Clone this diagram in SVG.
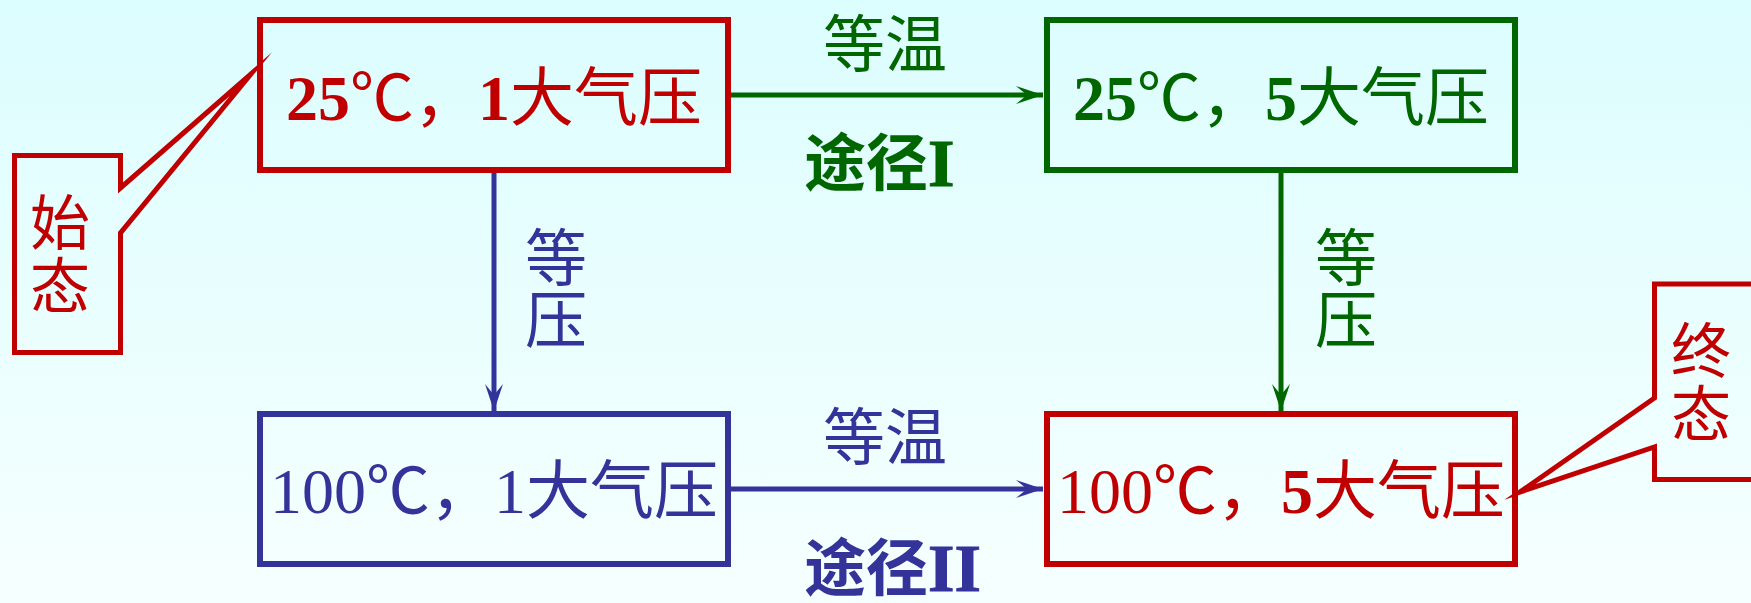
<svg xmlns="http://www.w3.org/2000/svg" width="1751" height="603" viewBox="0 0 1751 603">
  <defs>
    <linearGradient id="bg" x1="0" y1="0" x2="0" y2="1">
      <stop offset="0" stop-color="#dcfdfe"/>
      <stop offset="1" stop-color="#f6ffff"/>
    </linearGradient>
    <marker id="ahG" markerUnits="userSpaceOnUse" markerWidth="40" markerHeight="30" viewBox="-30 -15 40 30" refX="0" refY="0" orient="auto">
      <path d="M0,0 L-27,-9 L-16,0 L-27,9 Z" fill="#006600"/>
    </marker>
    <marker id="ahB" markerUnits="userSpaceOnUse" markerWidth="40" markerHeight="30" viewBox="-30 -15 40 30" refX="0" refY="0" orient="auto">
      <path d="M0,0 L-27,-9 L-16,0 L-27,9 Z" fill="#333399"/>
    </marker>
  </defs>
  <style>
    .box { fill: none; stroke-width: 6; }
    .call { fill: none; stroke: #c00000; stroke-width: 5; stroke-linejoin: miter; stroke-miterlimit: 20; }
    .red { fill: #c00000; stroke: #c00000; }
    .green { fill: #006600; stroke: #006600; }
    .blue { fill: #333399; stroke: #333399; }
    .lbl { font-family: "Liberation Serif", "Noto Sans CJK SC", serif; font-size: 64px; stroke: none; }
    .cjk { font-family: "Noto Sans CJK SC", sans-serif; stroke: none; }
    .vert { writing-mode: vertical-rl; text-orientation: upright; }
    .b { font-weight: bold; }
    .conn { stroke-width: 5; fill: none; }
  </style>
  <rect x="0" y="0" width="1751" height="603" fill="url(#bg)"/>

  <g id="connectors">
    <line class="conn" x1="731" y1="95" x2="1043" y2="95" stroke="#006600" marker-end="url(#ahG)"/>
    <line class="conn" x1="494" y1="173" x2="494" y2="411" stroke="#333399" marker-end="url(#ahB)"/>
    <line class="conn" x1="1281" y1="173" x2="1281" y2="411" stroke="#006600" marker-end="url(#ahG)"/>
    <line class="conn" x1="731" y1="489" x2="1043" y2="489" stroke="#333399" marker-end="url(#ahB)"/>
    <text class="cjk green" x="885" y="67" font-size="62" text-anchor="middle">等温</text>
    <text class="green" x="804" y="186" font-size="62"><tspan class="cjk b">途径</tspan><tspan font-family="Liberation Serif, serif" font-weight="bold" font-size="68">I</tspan></text>
    <text class="cjk blue" x="885" y="460" font-size="62" text-anchor="middle">等温</text>
    <text class="blue" x="804" y="591" font-size="62"><tspan class="cjk b">途径</tspan><tspan font-family="Liberation Serif, serif" font-weight="bold" font-size="68">II</tspan></text>
    <text class="cjk blue vert" x="556" y="226" font-size="62">等压</text>
    <text class="cjk green vert" x="1346" y="226" font-size="62">等压</text>
  </g>

  <g id="node-start">
    <rect class="box" x="260" y="20" width="468" height="150" stroke="#c00000"/>
    <text class="lbl red" x="494" y="120" text-anchor="middle"><tspan class="b">25</tspan>℃，<tspan class="b">1</tspan>大气压</text>
  </g>

  <g id="node-iso-temp">
    <rect class="box" x="1047" y="20" width="468" height="150" stroke="#006600"/>
    <text class="lbl green" x="1281" y="120" text-anchor="middle"><tspan class="b">25</tspan>℃，<tspan class="b">5</tspan>大气压</text>
  </g>

  <g id="node-iso-press">
    <rect class="box" x="260" y="414" width="468" height="150" stroke="#333399"/>
    <text class="lbl blue" x="494" y="513" text-anchor="middle">100℃，1大气压</text>
  </g>

  <g id="node-end">
    <rect class="box" x="1047" y="414" width="468" height="150" stroke="#c00000"/>
    <text class="lbl red" x="1281" y="513" text-anchor="middle">100℃，<tspan class="b">5</tspan>大气压</text>
  </g>

  <g id="callout-start">
    <path class="call" d="M14.5,155.5 L120.5,155.5 L120.5,188 L251,74 L120.5,233 L120.5,352.5 L14.5,352.5 Z"/>
    <text class="cjk red vert" x="60" y="192" font-size="60" letter-spacing="3">始态</text>
  </g>

  <g id="callout-end">
    <path class="call" d="M1654.5,284 L1760,284 L1760,479.5 L1654.5,479.5 L1654.5,447 L1520,492 L1654.5,398 Z"/>
    <text class="cjk red vert" x="1701" y="320" font-size="60" letter-spacing="3">终态</text>
  </g>
</svg>
